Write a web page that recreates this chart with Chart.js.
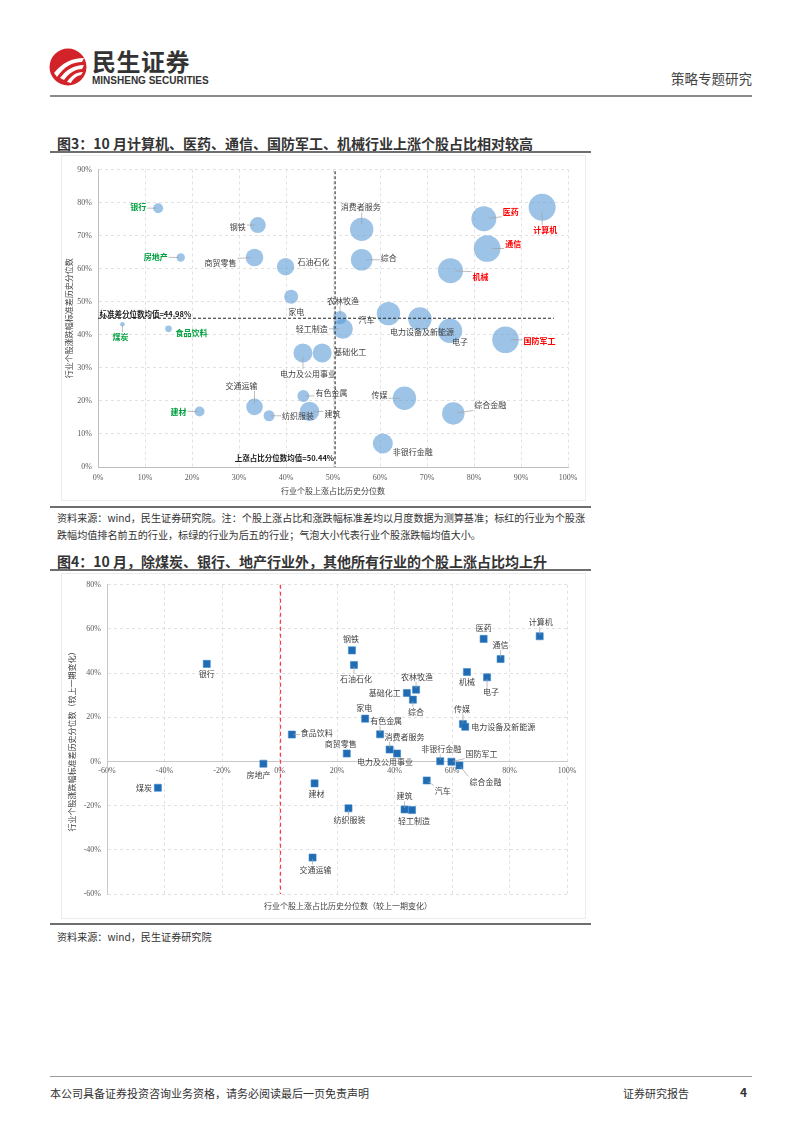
<!DOCTYPE html>
<html lang="zh-CN">
<head>
<meta charset="utf-8">
<title>策略专题研究</title>
<script src="https://cdn.jsdelivr.net/npm/chart.js@4.4.1/dist/chart.umd.min.js"></script>
<style>
  html, body { margin: 0; padding: 0; background: #fff; }
  body {
    width: 802px; height: 1133px; position: relative; overflow: hidden;
    font-family: "Noto Sans CJK SC", "Noto Sans", sans-serif; color: #333;
  }
  .abs { position: absolute; white-space: nowrap; }
  .rule { position: absolute; left: 50px; width: 541px; height: 2px; background: #6e6e6e; }
  .fig-title { position: absolute; left: 57px; font-size: 14px; line-height: 16px; font-weight: bold; color: #333; white-space: nowrap; }
  .note { position: absolute; left: 57px; font-size: 10.1px; line-height: 17px; color: #333; white-space: nowrap; }
  .panel { position: absolute; left: 62px; width: 523px; height: 344px; box-shadow: 0 0 0 1px #ececec; }
  .panel canvas { position: absolute; left: 0; top: 0; }
</style>
</head>
<body>

<!-- header -->
<svg class="abs" style="left:48px;top:47px" width="42" height="42" viewBox="0 0 42 42">
  <circle cx="20" cy="20" r="18.5" fill="#d2232a"/>
  <path d="M6 26 C14 16, 24 11, 36 11 L34 15 C24 15, 16 20, 9 30 Z" fill="#fff"/>
  <path d="M12 31 C18 23, 26 18, 36 18 L34 22 C27 22, 21 26, 16 33 Z" fill="#fff"/>
  <path d="M19 35 C23 29, 28 25, 35 25 L33 28 C28 29, 25 32, 23 36 Z" fill="#fff"/>
</svg>
<div class="abs" style="left:92px;top:47px;font-size:24px;line-height:28px;font-weight:bold;color:#333;letter-spacing:0.5px">民生证券</div>
<div class="abs" style="left:92px;top:75px;font-family:'Liberation Sans Narrow','Liberation Sans',sans-serif;font-size:10px;line-height:11px;font-weight:bold;color:#333">MINSHENG SECURITIES</div>
<div class="abs" style="left:671px;top:69px;font-size:13.5px;line-height:18px;color:#444">策略专题研究</div>
<div class="abs" style="left:50px;top:95px;width:702px;height:2px;background:#8a8a8a"></div>

<!-- figure 3 -->
<div class="fig-title" style="top:135px">图3：10 月计算机、医药、通信、国防军工、机械行业上涨个股占比相对较高</div>
<div class="rule" style="top:151px"></div>
<div class="panel" style="top:156px"><canvas id="bubbleChart" width="523" height="344"></canvas></div>
<div class="rule" style="top:506px"></div>
<div class="note" style="top:509px">资料来源：wind，民生证券研究院。注：个股上涨占比和涨跌幅标准差均以月度数据为测算基准；标红的行业为个股涨</div>
<div class="note" style="top:526px">跌幅均值排名前五的行业，标绿的行业为后五的行业；气泡大小代表行业个股涨跌幅均值大小。</div>

<!-- figure 4 -->
<div class="fig-title" style="top:553px">图4：10 月，除煤炭、银行、地产行业外，其他所有行业的个股上涨占比均上升</div>
<div class="rule" style="top:569px"></div>
<div class="panel" style="top:574px"><canvas id="changeChart" width="523" height="344"></canvas></div>
<div class="rule" style="top:923px"></div>
<div class="note" style="top:928px">资料来源：wind，民生证券研究院</div>

<!-- footer -->
<div class="abs" style="left:50px;top:1076px;width:702px;height:1px;background:#9a9a9a"></div>
<div class="abs" style="left:50px;top:1085px;font-size:11px;line-height:16px;color:#333">本公司具备证券投资咨询业务资格，请务必阅读最后一页免责声明</div>
<div class="abs" style="left:623px;top:1085px;font-size:11px;line-height:16px;color:#333">证券研究报告</div>
<div class="abs" style="left:740px;top:1084px;font-size:12px;line-height:16px;font-weight:bold;color:#333">4</div>

<script>
  // ---- figure 3: bubble chart ----
  const industries1 = ['银行', '钢铁', '房地产', '商贸零售', '石油石化', '家电', '煤炭', '食品饮料', '建材', '交通运输',
    '纺织服装', '有色金属', '建筑', '电力及公用事业', '基础化工', '轻工制造', '农林牧渔', '汽车', '电力设备及新能源', '电子',
    '国防军工', '传媒', '综合金融', '非银行金融', '消费者服务', '综合', '机械', '医药', '通信', '计算机'];
  const upSharePct1 = [12.8, 34.0, 17.6, 33.3, 39.9, 41.1, 5.2, 15.0, 21.6, 33.3,
    36.4, 43.7, 45.0, 43.6, 47.7, 52.1, 51.5, 61.8, 68.5, 74.9,
    86.7, 65.2, 75.6, 60.6, 56.1, 56.1, 75.0, 82.1, 82.8, 94.5];
  const stdPct1 = [78.3, 73.2, 63.4, 63.4, 60.6, 51.5, 43.2, 41.8, 16.8, 18.2,
    15.5, 21.5, 16.8, 34.5, 34.5, 41.8, 45.2, 46.4, 44.8, 41.2,
    38.5, 20.8, 16.2, 7.1, 71.9, 62.7, 59.4, 75.1, 66.1, 78.6];
  // bubble size ~ mean return of the industry
  const avgReturnSize1 = [5, 8, 4.2, 8.8, 8.7, 7, 2.3, 3.3, 5, 8.3,
    5.5, 6, 9.7, 9.5, 9.5, 10, 6.7, 11.7, 11.7, 12.2,
    13.3, 11.7, 11.2, 10, 11.7, 10.8, 12.5, 12.5, 13.3, 13.5];
  const topFive = ['计算机', '医药', '通信', '国防军工', '机械'];
  const bottomFive = ['银行', '房地产', '食品饮料', '煤炭', '建材'];
  const stdMean = 44.98;
  const upShareMean = 50.44;

  // ---- figure 4: change vs previous period ----
  const industries2 = ['银行', '食品饮料', '煤炭', '房地产', '建材', '交通运输', '钢铁', '石油石化', '基础化工', '农林牧渔',
    '综合', '家电', '有色金属', '消费者服务', '商贸零售', '电力及公用事业', '非银行金融', '国防军工', '综合金融', '汽车',
    '建筑', '轻工制造', '纺织服装', '医药', '通信', '计算机', '机械', '电子', '传媒', '电力设备及新能源'];
  const upShareChg2 = [-25.3, 4.3, -42.3, -5.6, 12.2, 11.5, 25.2, 25.9, 44.3, 47.5,
    46.4, 29.8, 35.0, 38.3, 23.4, 40.9, 55.9, 59.8, 62.6, 51.2,
    43.5, 46.1, 24.0, 71.0, 76.9, 90.5, 65.2, 72.2, 63.8, 64.6];
  const stdPctChg2 = [44.2, 12.2, -11.9, -1.0, -9.9, -43.5, 50.3, 43.7, 31.0, 32.5,
    28.0, 19.4, 12.3, 5.4, 3.6, 3.6, 0.1, -0.1, -1.8, -8.6,
    -21.7, -22.0, -21.2, 55.5, 46.4, 56.7, 40.5, 38.1, 17.0, 15.7];

  // label placement (pixel offsets of label centre from the mark)
  const labelOffsets1 = [[-20, -1], [-20, 2], [-25, 0], [-34, 6], [28, -5], [5, 15], [-2, 13], [23, 4], [-21, 0], [-13, -21],
    [29, 0], [28, -3], [23, 2], [5, 21], [28, -1], [-31, 0], [3, -17], [-22, 6], [2, 13], [10, 11],
    [34, 1], [-25, -3], [37, -8], [30, 8], [-1, -22], [27, -2], [30, 6], [27, -7], [26, -5], [3, 23]];
  const labelOffsets2 = [[0, 10], [25, -2], [-14, 0], [-5, 11], [2, 11], [3, 12], [-1, -11], [2, 14], [-22, 0], [1, -13],
    [3, 12], [-1, -11], [6, -13], [15, -13], [-6, -10], [-12, 8], [1, -12], [30, -8], [26, 16], [16, 10],
    [0, -13], [2, 11], [1, 12], [0, -11], [0, -14], [1, -14], [0, 10], [4, 15], [-1, -15], [38, 0]];

  const CJK = '"Noto Sans CJK SC", sans-serif';
  const TICK_FONT = { family: '"Liberation Serif", "Noto Sans CJK SC", serif', size: 8 };
  const GRID = { color: '#dadada', lineWidth: 0.8, drawTicks: false };
  Chart.defaults.color = '#595959';

  function pct(v) { return v + '%'; }

  const pointLabels = {
    id: 'pointLabels',
    afterDatasetsDraw(chart, args, opts) {
      const ctx = chart.ctx;
      const meta = chart.getDatasetMeta(0);
      ctx.save();
      ctx.textAlign = 'center';
      ctx.textBaseline = 'middle';
      meta.data.forEach((el, i) => {
        const name = opts.names[i];
        let color = '#404040';
        let bold = false;
        if (opts.highlight) {
          if (topFive.includes(name)) { color = '#ff0000'; bold = true; }
          if (bottomFive.includes(name)) { color = '#00a040'; bold = true; }
        }
        ctx.font = (bold ? 'bold ' : '') + '8px ' + CJK;
        const w = ctx.measureText(name).width;
        const h = 8;
        const tx = el.x + opts.offsets[i][0];
        const ty = el.y + opts.offsets[i][1];
        const r = opts.radius(i);
        const bx = Math.max(tx - w / 2 - 1, Math.min(el.x, tx + w / 2 + 1));
        const by = Math.max(ty - h / 2 - 1, Math.min(el.y, ty + h / 2 + 1));
        const d = Math.hypot(bx - el.x, by - el.y);
        if (d > r + 3) {
          const ux = (bx - el.x) / d;
          const uy = (by - el.y) / d;
          ctx.strokeStyle = '#a0a0a0';
          ctx.lineWidth = 0.7;
          ctx.beginPath();
          ctx.moveTo(el.x + ux * r * 0.4, el.y + uy * r * 0.4);
          ctx.lineTo(bx, by);
          ctx.stroke();
        }
        ctx.fillStyle = color;
        ctx.fillText(name, tx, ty);
      });
      ctx.restore();
    },
  };

  const meanLines = {
    id: 'meanLines',
    afterDatasetsDraw(chart) {
      const { ctx, scales: { x, y } } = chart;
      const hy = y.getPixelForValue(stdMean);
      const vx = x.getPixelForValue(upShareMean);
      ctx.save();
      ctx.strokeStyle = '#262626';
      ctx.lineWidth = 1.1;
      ctx.setLineDash([3, 2]);
      ctx.beginPath();
      ctx.moveTo(x.getPixelForValue(0), hy);
      ctx.lineTo(x.getPixelForValue(97), hy);
      ctx.moveTo(vx, y.getPixelForValue(89.5));
      ctx.lineTo(vx, y.getPixelForValue(0));
      ctx.stroke();
      ctx.setLineDash([]);
      ctx.fillStyle = '#1a1a1a';
      ctx.font = 'bold 7.5px ' + CJK;
      ctx.textBaseline = 'middle';
      ctx.textAlign = 'left';
      ctx.fillText('标准差分位数均值=' + stdMean + '%', x.getPixelForValue(0.3), hy - 4);
      ctx.textAlign = 'right';
      ctx.fillText('上涨占比分位数均值=' + upShareMean + '%', vx - 1, y.getPixelForValue(2.6));
      ctx.restore();
    },
  };

  new Chart(document.getElementById('bubbleChart'), {
    type: 'bubble',
    data: {
      datasets: [{
        data: industries1.map((n, i) => ({ x: upSharePct1[i], y: stdPct1[i], r: avgReturnSize1[i] })),
        backgroundColor: 'rgba(91, 155, 213, 0.6)',
        borderWidth: 0,
      }],
    },
    options: {
      responsive: false,
      devicePixelRatio: 1,
      animation: false,
      events: [],
      layout: { padding: { left: 0, right: 17, top: 10, bottom: 0 } },
      scales: {
        x: {
          type: 'linear', min: 0, max: 100,
          afterFit: (s) => { s.height = 33; },
          ticks: { stepSize: 10, callback: pct, font: TICK_FONT, padding: 6, maxRotation: 0 },
          grid: GRID,
          border: { color: '#bfbfbf', width: 1, dash: [3, 3] },
          title: { display: true, text: '行业个股上涨占比历史分位数', font: { family: CJK, size: 8 }, color: '#404040', padding: { top: 2, bottom: 4 } },
        },
        y: {
          type: 'linear', min: 0, max: 90,
          afterFit: (s) => { s.width = 36; },
          ticks: { stepSize: 10, callback: pct, font: TICK_FONT, padding: 6 },
          grid: GRID,
          border: { color: '#bfbfbf', width: 1, dash: [3, 3] },
          title: { display: true, text: '行业个股涨跌幅标准差历史分位数', font: { family: CJK, size: 8 }, color: '#404040', padding: { top: 2, bottom: 2 } },
        },
      },
      plugins: {
        legend: { display: false },
        tooltip: { enabled: false },
        pointLabels: {
          names: industries1,
          offsets: labelOffsets1,
          highlight: true,
          radius: (i) => avgReturnSize1[i],
        },
      },
    },
    plugins: [meanLines, pointLabels],
  });

  const zeroLine = {
    id: 'zeroLine',
    afterDatasetsDraw(chart) {
      const { ctx, scales: { x, y } } = chart;
      const px = Math.round(x.getPixelForValue(0)) + 0.5;
      ctx.save();
      ctx.strokeStyle = '#ff3b3b';
      ctx.lineWidth = 1.2;
      ctx.setLineDash([4, 3]);
      ctx.beginPath();
      ctx.moveTo(px, y.getPixelForValue(80));
      ctx.lineTo(px, y.getPixelForValue(-60));
      ctx.stroke();
      ctx.restore();
    },
    afterDraw(chart) {
      const { ctx, chartArea } = chart;
      ctx.save();
      ctx.fillStyle = '#404040';
      ctx.font = '8px ' + CJK;
      ctx.textAlign = 'center';
      ctx.textBaseline = 'middle';
      ctx.fillText('行业个股上涨占比历史分位数（较上一期变化）', chartArea.left + 241, chartArea.bottom + 12);
      ctx.restore();
    },
  };

  new Chart(document.getElementById('changeChart'), {
    type: 'scatter',
    data: {
      datasets: [{
        data: industries2.map((n, i) => ({ x: upShareChg2[i], y: stdPctChg2[i] })),
        pointStyle: 'rect',
        pointRadius: 5,
        backgroundColor: '#1f6cb4',
        borderColor: '#3d86c8',
        borderWidth: 0.6,
      }],
    },
    options: {
      responsive: false,
      devicePixelRatio: 1,
      animation: false,
      events: [],
      layout: { padding: { left: 0, right: 18, top: 10, bottom: 24 } },
      scales: {
        x: {
          type: 'linear', min: -60, max: 100,
          position: { y: 0 },
          ticks: { stepSize: 20, callback: pct, font: TICK_FONT, padding: 5, maxRotation: 0 },
          grid: GRID,
          border: { color: '#c8c8c8', width: 1, dash: [3, 3] },
        },
        y: {
          type: 'linear', min: -60, max: 80,
          afterFit: (s) => { s.width = 45; },
          ticks: { stepSize: 20, callback: pct, font: TICK_FONT, padding: 6 },
          grid: GRID,
          border: { color: '#c8c8c8', width: 1, dash: [3, 3] },
          title: { display: true, text: '行业个股涨跌幅标准差历史分位数（较上一期变化）', font: { family: CJK, size: 8 }, color: '#404040', padding: { top: 5, bottom: 2 } },
        },
      },
      plugins: {
        legend: { display: false },
        tooltip: { enabled: false },
        pointLabels: {
          names: industries2,
          offsets: labelOffsets2,
          highlight: false,
          radius: () => 3.5,
        },
      },
    },
    plugins: [zeroLine, pointLabels],
  });
</script>
</body>
</html>
